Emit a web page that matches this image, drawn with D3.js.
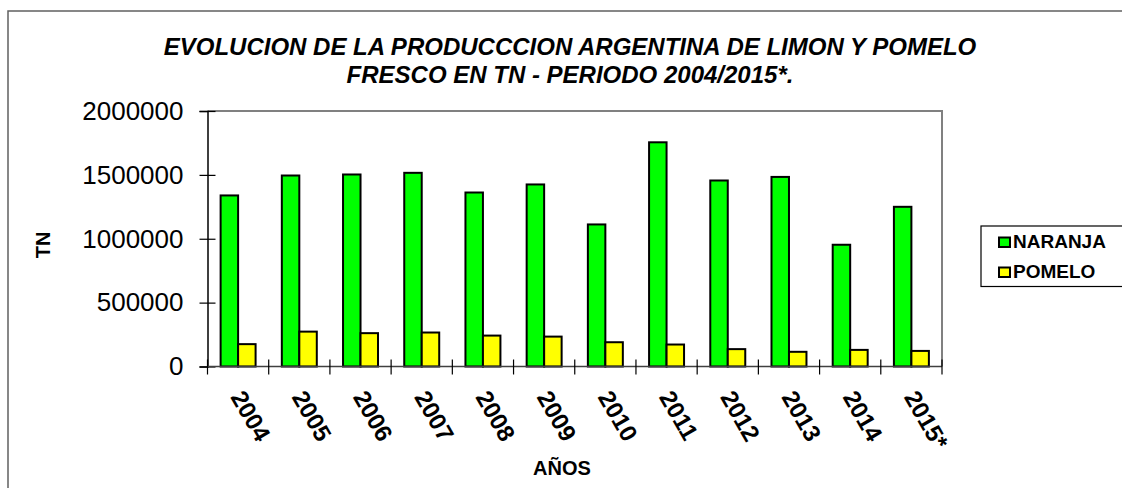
<!DOCTYPE html>
<html>
<head>
<meta charset="utf-8">
<script src="https://cdn.jsdelivr.net/npm/d3@7/dist/d3.min.js"></script>
<style>
  html, body { margin: 0; padding: 0; background: #fff; }
  svg { display: block; font-family: "Liberation Sans", Arial, sans-serif; }
</style>
</head>
<body>
<svg id="chart" width="1122" height="488"></svg>
<script>
const categories = ["2004","2005","2006","2007","2008","2009","2010","2011","2012","2013","2014","2015*"];
const seriesNames = ["NARANJA","POMELO"];
const naranja = [1339000,1495000,1503000,1516000,1362000,1425000,1112000,1755000,1456000,1484000,953000,1250000];
const pomelo  = [175000,273000,261000,266000,242000,234000,190000,172000,136000,115000,130000,122000];
const yTicks = [0,500000,1000000,1500000,2000000];
const titleLines = ["EVOLUCION DE LA PRODUCCCION ARGENTINA DE LIMON Y POMELO","FRESCO EN TN - PERIODO 2004/2015*."];
const colors = ["#00ff00","#ffff00"];

const svg = d3.select("#chart");
const plot = {left: 207.5, right: 942, top: 111, bottom: 366.5};

// outer chart border (clipped by viewport)
svg.append("rect").attr("x", 8).attr("y", 11).attr("width", 1200).attr("height", 600)
  .attr("fill", "none").attr("stroke", "#606060").attr("stroke-width", 1.5);

// title
svg.append("g").selectAll("text").data(titleLines).join("text")
  .attr("x", 570).attr("y", (d, i) => 55 + i * 28.3)
  .attr("text-anchor", "middle")
  .attr("font-size", 24).attr("font-weight", "bold").attr("font-style", "italic")
  .attr("fill", "#000").text(d => d);

const x = d3.scaleBand().domain(categories).range([plot.left, plot.right]).padding(0);
const xs = d3.scaleBand().domain(seriesNames).range([0, x.bandwidth()]).paddingInner(0).paddingOuter(0.75);
const y = d3.scaleLinear().domain([0, 2000000]).range([plot.bottom, plot.top]);

// plot area border (top & right gray)
svg.append("path")
  .attr("d", `M${plot.left},${plot.top}H${plot.right}V${plot.bottom}`)
  .attr("fill", "none").attr("stroke", "#808080").attr("stroke-width", 2);

// bars
const data = categories.map((c, i) => ({c, vals: [naranja[i], pomelo[i]]}));
const g = svg.append("g");
g.selectAll("g.grp").data(data).join("g").attr("class", "grp")
  .attr("transform", d => `translate(${x(d.c)},0)`)
  .selectAll("rect").data(d => d.vals.map((v, j) => ({s: seriesNames[j], v, j})))
  .join("rect")
  .attr("x", d => xs(d.s)).attr("width", xs.bandwidth())
  .attr("y", d => y(d.v)).attr("height", d => y(0) - y(d.v))
  .attr("fill", d => colors[d.j]).attr("stroke", "#000").attr("stroke-width", 2);

// y axis
const yAxis = svg.append("g").attr("transform", `translate(${plot.left},0)`)
  .call(d3.axisLeft(y).tickValues(yTicks).tickFormat(d3.format("d")).tickSize(8).tickPadding(16));
yAxis.select(".domain").attr("stroke", "#000").attr("stroke-width", 1.5);
yAxis.selectAll(".tick line").attr("x1", 8).attr("stroke", "#000").attr("stroke-width", 1.2);
yAxis.selectAll(".tick text").attr("font-size", 26).attr("font-family", "Liberation Sans, Arial, sans-serif").attr("fill", "#000");

// x axis line and crossing ticks
svg.append("line").attr("x1", plot.left).attr("x2", plot.right).attr("y1", plot.bottom).attr("y2", plot.bottom)
  .attr("stroke", "#404040").attr("stroke-width", 1.5);
const tickXs = categories.map(c => x(c)).concat([x.range()[1]]);
svg.append("g").selectAll("line").data(tickXs).join("line")
  .attr("x1", d => d).attr("x2", d => d).attr("y1", plot.bottom - 7).attr("y2", plot.bottom + 8)
  .attr("stroke", "#000").attr("stroke-width", 1.2);

// x labels rotated
svg.append("g").selectAll("text").data(categories).join("text")
  .attr("transform", c => `translate(${x(c) + x.bandwidth() / 2 - 8},397) rotate(60)`)
  .attr("text-anchor", "start").attr("font-size", 24).attr("font-weight", "bold").attr("fill", "#000")
  .text(c => c);

// axis titles
svg.append("text").attr("x", 562).attr("y", 475).attr("text-anchor", "middle")
  .attr("font-size", 20).attr("font-weight", "bold").text("AÑOS");
svg.append("text").attr("transform", "translate(50,245) rotate(-90)").attr("text-anchor", "middle")
  .attr("font-size", 20).attr("font-weight", "bold").text("TN");

// legend
const lg = svg.append("g").attr("transform", "translate(981,226)");
lg.append("rect").attr("x", 0).attr("y", 0).attr("width", 200).attr("height", 60.5)
  .attr("fill", "#fff").attr("stroke", "#000").attr("stroke-width", 1.2);
const items = lg.selectAll("g.item").data(seriesNames).join("g").attr("class", "item")
  .attr("transform", (d, i) => `translate(0,${i * 30})`);
items.append("rect").attr("x", 18).attr("y", 11.5).attr("width", 11).attr("height", 9.5)
  .attr("fill", (d, i) => colors[i]).attr("stroke", "#000").attr("stroke-width", 2);
items.append("text").attr("x", 32).attr("y", 22.3).attr("font-size", 19).attr("font-weight", "bold").text(d => d);
</script>
</body>
</html>
